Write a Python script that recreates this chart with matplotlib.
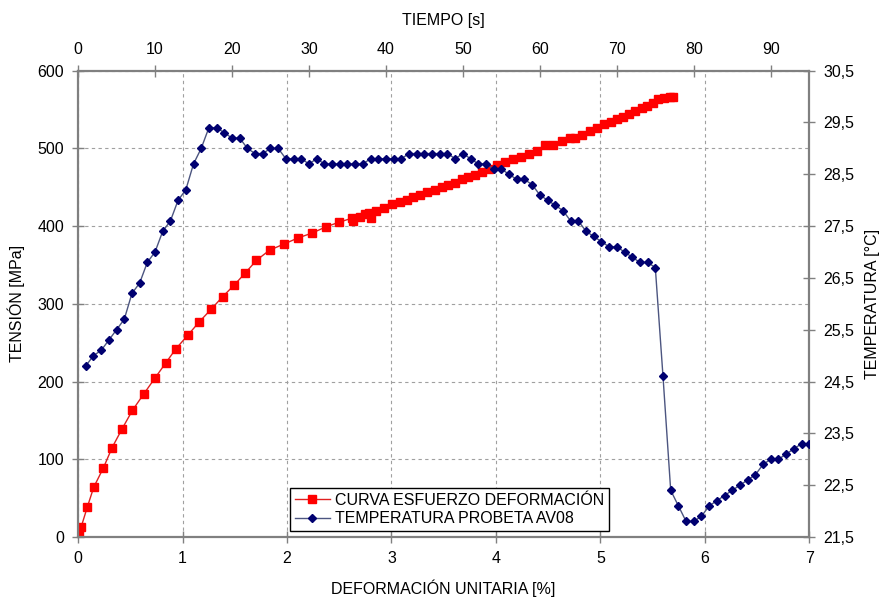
import numpy as np
import matplotlib.pyplot as plt
from matplotlib.ticker import FuncFormatter, MultipleLocator, FixedLocator

plt.rcParams['font.family'] = ['Liberation Sans', 'DejaVu Sans']
plt.rcParams['font.size'] = 11.5

# curva esfuerzo-deformacion (deformacion %, tension MPa)
deformacion = [0, 0.01, 0.03, 0.09, 0.15, 0.243, 0.326, 0.421, 0.521, 0.629,
               0.734, 0.84, 0.936, 1.053, 1.162, 1.274, 1.383, 1.494, 1.603, 1.708,
               1.833, 1.973, 2.11, 2.241, 2.372, 2.499, 2.618, 2.633, 2.698, 2.745,
               2.787, 2.80, 2.851, 2.927, 3.01, 3.08, 3.145, 3.208, 3.27, 3.34,
               3.414, 3.48, 3.545, 3.61, 3.671, 3.735, 3.799, 3.863, 3.936, 4.012,
               4.086, 4.16, 4.236, 4.316, 4.39, 4.472, 4.549, 4.629, 4.709, 4.756,
               4.82, 4.9, 4.964, 5.034, 5.098, 5.162, 5.219, 5.277, 5.331, 5.395,
               5.449, 5.5, 5.554, 5.609, 5.666, 5.698]
tension = [0, 5, 13, 39, 64, 89, 115, 139, 163, 184,
           204, 224, 242, 260, 277, 293, 309, 324, 340, 356,
           369, 377, 385, 391, 399, 405, 410, 407, 412, 415,
           417, 410, 420, 423, 429, 431, 434, 437, 440, 444,
           447, 450, 453, 456, 460, 463, 466, 470, 473, 479,
           482, 486, 489, 493, 496, 504, 504, 509, 513, 513,
           517, 522, 526, 531, 534, 538, 541, 544, 548, 552,
           555, 558, 563, 565, 566, 566]

# temperatura de la probeta, una lectura por segundo
tiempo = list(range(1, 96))
temperatura = [24.8, 25.0, 25.1, 25.3, 25.5, 25.7, 26.2, 26.4, 26.8, 27.0,
               27.4, 27.6, 28.0, 28.2, 28.7, 29.0, 29.4, 29.4, 29.3, 29.2,
               29.2, 29.0, 28.9, 28.9, 29.0, 29.0, 28.8, 28.8, 28.8, 28.7,
               28.8, 28.7, 28.7, 28.7, 28.7, 28.7, 28.7, 28.8, 28.8, 28.8,
               28.8, 28.8, 28.9, 28.9, 28.9, 28.9, 28.9, 28.9, 28.8, 28.9,
               28.8, 28.7, 28.7, 28.6, 28.6, 28.5, 28.4, 28.4, 28.3, 28.1,
               28.0, 27.9, 27.8, 27.6, 27.6, 27.4, 27.3, 27.2, 27.1, 27.1,
               27.0, 26.9, 26.8, 26.8, 26.7, 24.6, 22.4, 22.1, 21.8, 21.8,
               21.9, 22.1, 22.2, 22.3, 22.4, 22.5, 22.6, 22.7, 22.9, 23.0,
               23.0, 23.1, 23.2, 23.3, 23.3]

gris = '#808080'

fig = plt.figure(figsize=(8.82, 6.04), dpi=100)
ax = fig.add_axes([0.0885, 0.111, 0.829, 0.772])
ax2 = fig.add_axes(ax.get_position(), frameon=False)

l1, = ax.plot(deformacion, tension, color='#e02020', lw=1, marker='s', ms=5.5,
              mfc='#ff0000', mec='#ff0000', label='CURVA ESFUERZO DEFORMACIÓN')
l2, = ax2.plot(tiempo, temperatura, color='#4c5580', lw=1, marker='D', ms=4,
               mfc='#000070', mec='#000070', label='TEMPERATURA PROBETA AV08')

ax.set_xlim(0, 7)
ax.set_ylim(0, 600)
ax.xaxis.set_major_locator(MultipleLocator(1))
ax.yaxis.set_major_locator(MultipleLocator(100))
ax.grid(True, color='#a0a0a0', ls=(0, (3, 3)), lw=0.8)
ax.set_xlabel('DEFORMACIÓN UNITARIA [%]', labelpad=10)
ax.set_ylabel('TENSIÓN [MPa]', labelpad=9)

ax2.set_xlim(0, 95)
ax2.set_ylim(21.5, 30.5)
ax2.xaxis.set_major_locator(MultipleLocator(10))
ax2.yaxis.set_major_locator(FixedLocator(np.arange(21.5, 30.6, 1.0)))
ax2.yaxis.set_major_formatter(FuncFormatter(lambda v, p: f'{v:.1f}'.replace('.', ',')))
ax2.xaxis.tick_top()
ax2.xaxis.set_label_position('top')
ax2.yaxis.tick_right()
ax2.yaxis.set_label_position('right')
ax2.set_xlabel('TIEMPO [s]', labelpad=12)
ax2.set_ylabel('TEMPERATURA [°C]', labelpad=8)

for s in ax.spines.values():
    s.set_color(gris)
    s.set_linewidth(1.6)
for a in (ax, ax2):
    a.tick_params(direction='inout', length=8, width=1, color=gris, pad=6)

ax.legend([l1, l2], [l1.get_label(), l2.get_label()], loc='lower left',
          bbox_to_anchor=(0.29, 0.013), borderaxespad=0, fancybox=False,
          framealpha=1, edgecolor='black', fontsize=11.5, handlelength=2.2,
          handletextpad=0.3, borderpad=0.3, labelspacing=0.2)

fig.savefig('out.png', dpi=100)
